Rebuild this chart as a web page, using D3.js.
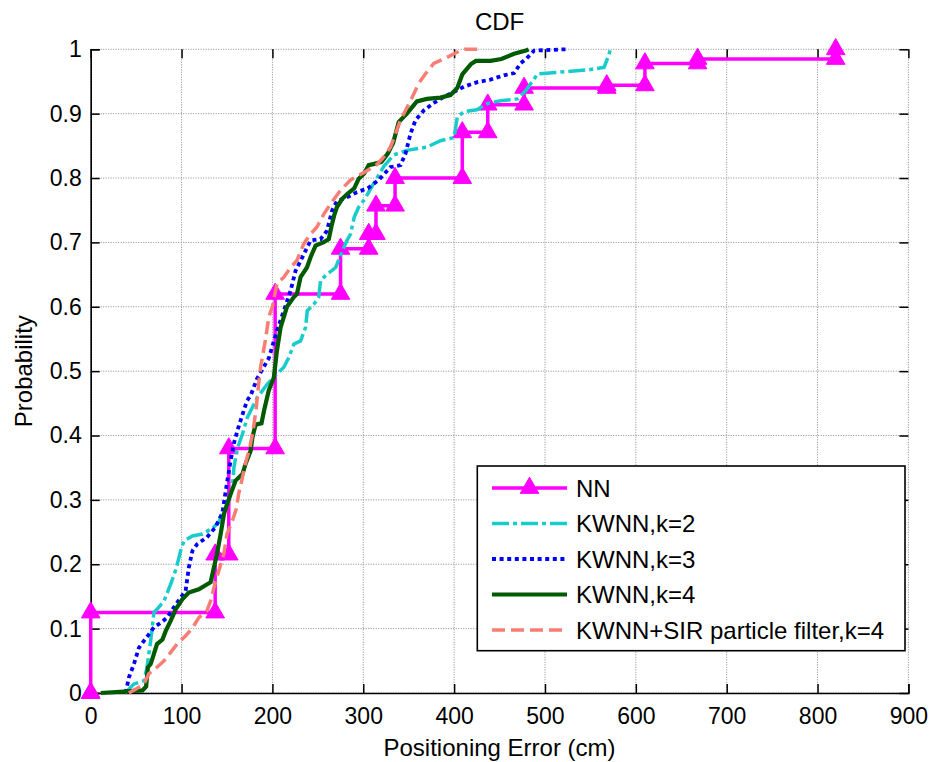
<!DOCTYPE html>
<html>
<head>
<meta charset="utf-8">
<script src="https://cdn.jsdelivr.net/npm/d3@7"></script>
<style>
  html, body { margin: 0; padding: 0; background: #fff; }
  svg { display: block; font-family: "Liberation Sans", Arial, Helvetica, sans-serif; }
</style>
</head>
<body>
<svg id="chart" width="932" height="762"></svg>
<script>
// ---------------- data ----------------
const titleText = "CDF";
const xLabelText = "Positioning Error (cm)";
const yLabelText = "Probability";

const xTicks = [0, 100, 200, 300, 400, 500, 600, 700, 800, 900];
const xTickLabels = ["0", "100", "200", "300", "400", "500", "600", "700", "800", "900"];
const yTicks = [0, 0.1, 0.2, 0.3, 0.4, 0.5, 0.6, 0.7, 0.8, 0.9, 1];
const yTickLabels = ["0", "0.1", "0.2", "0.3", "0.4", "0.5", "0.6", "0.7", "0.8", "0.9", "1"];

const seriesNames = ["NN", "KWNN,k=2", "KWNN,k=3", "KWNN,k=4", "KWNN+SIR particle filter,k=4"];

// NN: staircase CDF (x = error, y = probability)
const nnX = [0, 0, 137, 152, 203, 275, 306, 314, 335, 409, 437, 477, 568, 610, 668, 820];
const nnY = [0, 0.125, 0.215, 0.38, 0.62, 0.69, 0.713, 0.757, 0.80, 0.871, 0.914, 0.94, 0.944, 0.978, 0.985, 1.0];

// KWNN, k=2
const k2X = [38, 42, 47.6, 58.6, 62, 66, 69.6, 73, 80.7, 88, 94, 99, 102.6, 112, 123, 134, 141, 143, 150.4, 156, 157.6, 161.4, 167, 172.4, 178, 183.4, 194.4, 205, 212.6, 218, 223.6, 231, 236.5, 238.4, 245.6, 251, 253, 260.4, 269.6, 275, 282, 286, 290, 295, 302, 308, 315, 322.6, 333.6, 348, 370, 385, 400, 403.5, 411, 425, 437, 451, 470, 479, 485, 492, 521, 547, 565, 570, 572];
const k2Y = [0, 0.006, 0.014, 0.019, 0.04, 0.081, 0.125, 0.13, 0.143, 0.169, 0.193, 0.221, 0.236, 0.244, 0.247, 0.256, 0.265, 0.273, 0.293, 0.319, 0.35, 0.38, 0.402, 0.428, 0.444, 0.459, 0.48, 0.496, 0.506, 0.521, 0.542, 0.547, 0.568, 0.594, 0.604, 0.615, 0.641, 0.651, 0.661, 0.68, 0.703, 0.713, 0.739, 0.755, 0.768, 0.783, 0.8, 0.818, 0.836, 0.843, 0.848, 0.858, 0.863, 0.895, 0.903, 0.906, 0.916, 0.92, 0.923, 0.936, 0.948, 0.962, 0.965, 0.968, 0.972, 0.99, 1.0];

// KWNN, k=3
const k3X = [38.5, 42, 47.6, 53, 58.6, 64, 69.6, 77, 84, 91.6, 99, 104.5, 108, 112, 117, 128, 137, 145, 147, 150.4, 154, 158, 162, 166, 172, 176, 183, 196, 205, 212.6, 220, 225.5, 233, 242, 253, 260, 265.8, 271, 282, 293, 305, 317, 330, 341, 346.5, 352, 357.5, 366.6, 378, 388.6, 400, 411, 425.6, 440, 456, 466, 473, 480, 488, 523];
const k3Y = [0, 0.024, 0.045, 0.07, 0.081, 0.091, 0.102, 0.109, 0.117, 0.133, 0.148, 0.159, 0.195, 0.221, 0.231, 0.242, 0.257, 0.28, 0.299, 0.33, 0.361, 0.39, 0.41, 0.428, 0.454, 0.462, 0.488, 0.52, 0.563, 0.594, 0.625, 0.656, 0.677, 0.703, 0.705, 0.718, 0.75, 0.764, 0.77, 0.778, 0.784, 0.797, 0.817, 0.82, 0.838, 0.869, 0.89, 0.905, 0.917, 0.926, 0.934, 0.942, 0.949, 0.953, 0.96, 0.963, 0.978, 0.986, 0.998, 1.0];

// KWNN, k=4
const k4X = [11, 57, 61, 63, 66, 73, 79, 82.5, 88, 93.5, 101, 108, 119, 132, 135.6, 139, 143, 146.7, 150, 154, 159.5, 167, 170.5, 176, 178, 181.5, 188, 191, 196, 201.6, 205, 209, 216, 223.6, 227, 231, 238, 242, 247.5, 256, 262, 265, 268, 271, 277, 283, 290, 295, 301, 306, 312, 320, 327, 333, 339, 348, 359, 370, 385, 396, 403.5, 409, 418.5, 424, 440, 452, 466, 479, 482];
const k4Y = [0, 0.004, 0.01, 0.04, 0.045, 0.076, 0.083, 0.096, 0.112, 0.13, 0.146, 0.156, 0.161, 0.172, 0.195, 0.216, 0.247, 0.278, 0.293, 0.309, 0.33, 0.34, 0.356, 0.376, 0.397, 0.417, 0.419, 0.44, 0.47, 0.49, 0.532, 0.568, 0.6, 0.615, 0.62, 0.646, 0.661, 0.677, 0.695, 0.7, 0.705, 0.725, 0.742, 0.755, 0.768, 0.776, 0.784, 0.799, 0.807, 0.82, 0.822, 0.825, 0.838, 0.855, 0.887, 0.9, 0.919, 0.923, 0.925, 0.929, 0.94, 0.961, 0.977, 0.982, 0.982, 0.985, 0.993, 0.998, 1.0];

// KWNN + SIR particle filter, k=4
const sirX = [42, 49.5, 58.6, 64, 73, 80.7, 88, 95, 104.5, 112, 119, 128, 132, 135.7, 141, 146.6, 150, 156, 160, 163, 167, 171, 175, 179, 182, 184.5, 187, 192.5, 196, 200, 205, 212.6, 220, 227, 234.6, 242, 249, 256.6, 264, 275, 286, 300, 315, 322.6, 330, 335.5, 341, 346.5, 354, 361, 368.5, 377.6, 388.6, 400, 407, 412, 429];
const sirY = [0, 0.006, 0.014, 0.03, 0.04, 0.05, 0.063, 0.076, 0.089, 0.101, 0.117, 0.128, 0.143, 0.164, 0.19, 0.216, 0.247, 0.268, 0.285, 0.31, 0.335, 0.36, 0.38, 0.41, 0.44, 0.475, 0.506, 0.55, 0.584, 0.6, 0.636, 0.646, 0.661, 0.672, 0.698, 0.713, 0.724, 0.744, 0.76, 0.781, 0.797, 0.808, 0.821, 0.833, 0.848, 0.869, 0.89, 0.905, 0.926, 0.947, 0.962, 0.978, 0.985, 0.993, 0.998, 1.0, 1.0];

// ---------------- layout ----------------
const svg = d3.select("#chart");
const pLeft = 90.7, pRight = 908.4, pTop = 49.3, pBottom = 693;
const x = d3.scaleLinear().domain([0, 900]).range([pLeft, pRight]);
const y = d3.scaleLinear().domain([0, 1]).range([pBottom, pTop]);

const colors = ["#ff00ff", "#19cccc", "#0000ff", "#005a00", "#f87d74"];
const dashes = [null, "17,4,4,4", "4,3.6", null, "13,6"];
const widths = [3.5, 3.5, 3.8, 4.2, 3.5];

// grid
const grid = svg.append("g").attr("stroke", "#8a8a8a").attr("stroke-width", 1).attr("stroke-dasharray", "1,1.5");
grid.selectAll(".gx").data(xTicks).join("line")
  .attr("x1", d => x(d)).attr("x2", d => x(d)).attr("y1", pTop).attr("y2", pBottom);
grid.selectAll(".gy").data(yTicks).join("line")
  .attr("x1", pLeft).attr("x2", pRight).attr("y1", d => y(d)).attr("y2", d => y(d));

// axes
const fontTick = "23px";
const gx = svg.append("g").attr("transform", `translate(0,${pBottom})`)
  .call(d3.axisBottom(x).tickValues(xTicks).tickFormat((d, i) => xTickLabels[i]).tickSize(-9).tickPadding(15));
const gy = svg.append("g").attr("transform", `translate(${pLeft},0)`)
  .call(d3.axisLeft(y).tickValues(yTicks).tickFormat((d, i) => yTickLabels[i]).tickSize(-9).tickPadding(9));
const gt = svg.append("g").attr("transform", `translate(0,${pTop})`)
  .call(d3.axisTop(x).tickValues(xTicks).tickFormat("").tickSize(-9));
const gr = svg.append("g").attr("transform", `translate(${pRight},0)`)
  .call(d3.axisRight(y).tickValues(yTicks).tickFormat("").tickSize(-9));
[gx, gy, gt, gr].forEach(g => {
  g.selectAll(".tick line").attr("stroke", "#000").attr("stroke-width", 1.5);
  g.selectAll("text").attr("font-size", fontTick).attr("fill", "#000")
    .attr("font-family", '"Liberation Sans", Arial, sans-serif');
});
gt.select(".domain").remove();
gr.select(".domain").remove();
gx.select(".domain").attr("stroke", "#000").attr("stroke-width", 1.6);
gy.select(".domain").attr("stroke", "#000").attr("stroke-width", 1.6);

// lines
const lineGen = d3.line().x(d => x(d[0])).y(d => y(d[1]));
const stairGen = d3.line().x(d => x(d[0])).y(d => y(d[1])).curve(d3.curveStepAfter);
const zipPts = (xs, ys) => xs.map((v, i) => [v, ys[i]]);

const nnPts = zipPts(nnX, nnY);
const series = [
  zipPts(k2X, k2Y),
  zipPts(k3X, k3Y),
  zipPts(k4X, k4Y),
  zipPts(sirX, sirY)
];

const plot = svg.append("g");
// NN staircase
plot.append("path").datum(nnPts)
  .attr("d", stairGen).attr("fill", "none")
  .attr("stroke", colors[0]).attr("stroke-width", widths[0]).attr("stroke-linejoin", "miter");

// NN markers at every vertex of the staircase
const nnVerts = [];
nnPts.forEach((p, i) => {
  nnVerts.push(p);
  if (i < nnPts.length - 1) nnVerts.push([nnPts[i + 1][0], p[1]]);
});
const tri = d3.symbol(d3.symbolTriangle).size(150);
plot.selectAll(".nnm").data(nnVerts).join("path")
  .attr("d", tri)
  .attr("transform", d => `translate(${x(d[0])},${y(d[1])})`)
  .attr("fill", colors[0]).attr("stroke", colors[0]).attr("stroke-width", 1);

series.forEach((pts, i) => {
  const k = i + 1;
  plot.append("path").datum(pts)
    .attr("d", lineGen).attr("fill", "none")
    .attr("stroke", colors[k]).attr("stroke-width", widths[k])
    .attr("stroke-dasharray", dashes[k])
    .attr("stroke-linejoin", "miter");
});

// title & labels
svg.append("text").attr("x", (pLeft + pRight) / 2).attr("y", 30)
  .attr("text-anchor", "middle").attr("font-size", "24px").text(titleText);
svg.append("text").attr("x", (pLeft + pRight) / 2).attr("y", 756)
  .attr("text-anchor", "middle").attr("font-size", "24px").text(xLabelText);
svg.append("text").attr("transform", `translate(32,${(pTop + pBottom) / 2}) rotate(-90)`)
  .attr("text-anchor", "middle").attr("font-size", "24px").text(yLabelText);

// legend
const lg = svg.append("g");
const lgX = 477.3, lgY = 466, lgW = 427.7, lgH = 184.7;
lg.append("rect").attr("x", lgX).attr("y", lgY).attr("width", lgW).attr("height", lgH)
  .attr("fill", "#fff").attr("stroke", "#000").attr("stroke-width", 1.6);
const rowY = d3.scalePoint().domain(seriesNames).range([488, 630]);
seriesNames.forEach((name, i) => {
  const yy = rowY(name);
  lg.append("line").attr("x1", 492).attr("x2", 567).attr("y1", yy).attr("y2", yy)
    .attr("stroke", colors[i]).attr("stroke-width", widths[i])
    .attr("stroke-dasharray", dashes[i]);
  if (i === 0) {
    lg.append("path").attr("d", tri).attr("transform", `translate(529.5,${yy})`)
      .attr("fill", colors[0]).attr("stroke", colors[0]);
  }
  lg.append("text").attr("x", 576).attr("y", yy + 8.5)
    .attr("font-size", "24px").text(name);
});
</script>
</body>
</html>
